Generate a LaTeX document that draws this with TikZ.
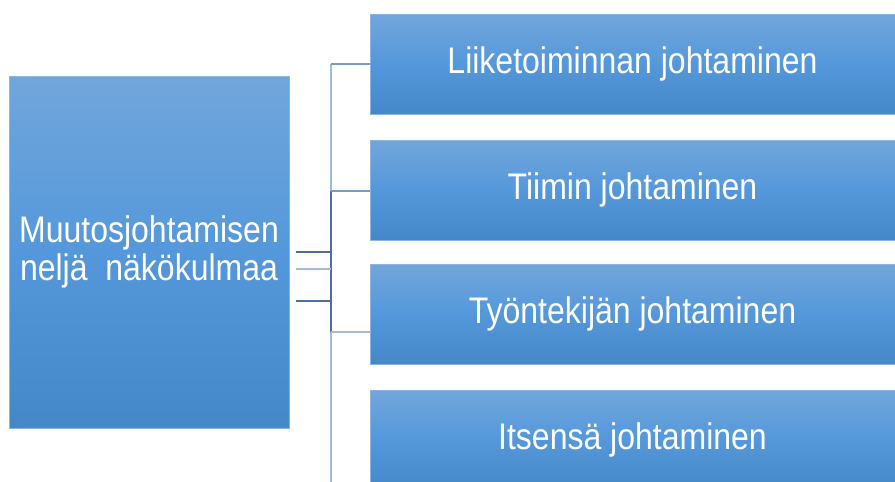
\documentclass[tikz,border=0pt]{standalone}
\usepackage{fontspec}
\setmainfont[FakeStretch=0.865]{Liberation Sans}
\usetikzlibrary{shadings}
\definecolor{gtop}{RGB}{114,166,219}
\definecolor{gmid}{RGB}{84,152,219}
\definecolor{gbot}{RGB}{69,136,200}
\definecolor{edgec}{RGB}{140,180,226}
\definecolor{lnlight}{RGB}{160,186,218}
\definecolor{lnmid}{RGB}{120,156,200}
\definecolor{lndark}{RGB}{72,112,166}
\tikzset{
  boxstyle/.style={rectangle, inner sep=0pt, draw=edgec, line width=0.6pt,
    top color=gtop, bottom color=gbot, middle color=gmid,
    text=white, align=center, font=\fontsize{37}{38.7}\selectfont},
  conn/.style={line width=1.3pt},
}
\begin{document}
\begin{tikzpicture}[x=1pt,y=-1pt]
\useasboundingbox[fill=white] (0,0) rectangle (895,482);
\node[boxstyle, minimum width=280pt, minimum height=352pt] (main) at (149,252)
  {\raisebox{-2pt}{\parbox{270pt}{\centering Muutosjohtamisen\\nelj\"a\ \ n\"ak\"okulmaa}}};
\node[boxstyle, minimum width=525pt, minimum height=100pt] (b1) at (632.5,64) {Liiketoiminnan johtaminen};
\node[boxstyle, minimum width=525pt, minimum height=100pt] (b2) at (632.5,190) {Tiimin johtaminen};
\node[boxstyle, minimum width=525pt, minimum height=100pt] (b3) at (632.5,314) {Ty\"ontekij\"an johtaminen};
\node[boxstyle, minimum width=525pt, minimum height=100pt] (b4) at (632.5,440) {Itsens\"a johtaminen};
% junction coordinates
\coordinate (s1) at (296,252);
\coordinate (s2) at (296,269);
\coordinate (s3) at (296,301);
\coordinate (j1) at (331,252);
\coordinate (j2) at (331,269);
\coordinate (j3) at (331,301);
\coordinate (t1) at (331,64);
\coordinate (t2) at (331,191);
\coordinate (t3) at (331,332);
\coordinate (t4) at (331,482);
\coordinate (e3) at (370,332);
% vertical spine
\draw[conn, lnlight] (t1) -- (t4);
\draw[conn, lndark] (t2) -- (t3);
% stubs from main box
\draw[conn, lndark] (s1) -- (j1);
\draw[conn, lnlight] (s2) -- (j2);
\draw[conn, lndark] (s3) -- (j3);
% branches to boxes
\draw[conn, lnmid] (t1) -- (b1.west);
\draw[conn, lnmid] (t2) -- (b2.west |- t2);
\draw[conn, lnlight] (t3) -- (e3);
\end{tikzpicture}
\end{document}
